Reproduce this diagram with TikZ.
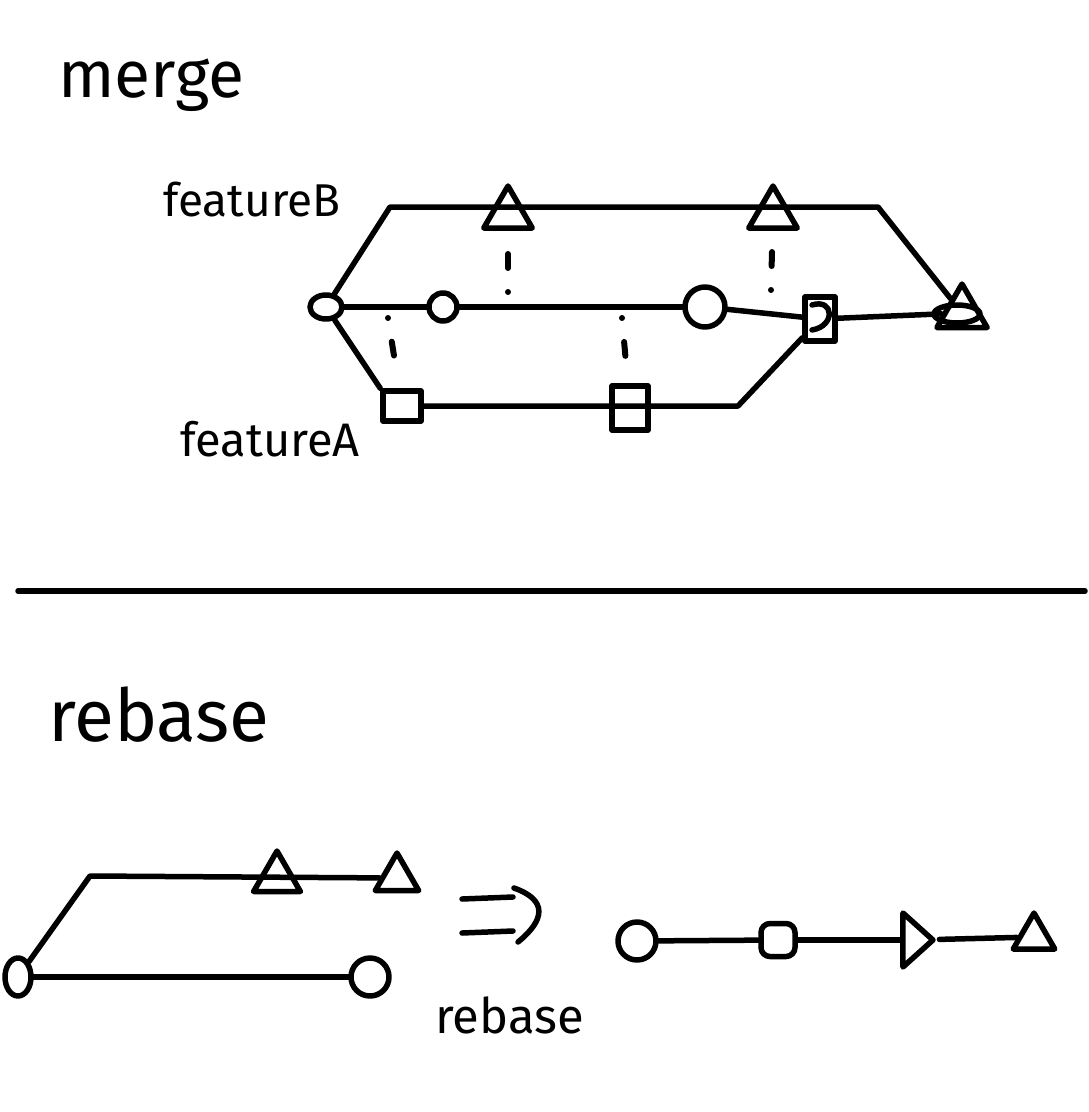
\documentclass[tikz,border=0pt]{standalone}
\usepackage{fontspec}
\setmainfont{Fira Sans}
\usetikzlibrary{shapes.geometric}
\begin{document}
\begin{tikzpicture}[x=1pt,y=-1pt,
  stroke/.style={line width=5.5pt, line cap=round, line join=round},
  commit/.style={draw, stroke, circle, inner sep=0pt, minimum size=#1},
  oval/.style={draw, stroke, ellipse, inner sep=0pt},
  tri/.style={draw, stroke, regular polygon, regular polygon sides=3, inner sep=0pt, minimum size=#1},
  sq/.style={draw, stroke, rectangle, inner sep=0pt},
  dotline/.style={line width=6pt, line cap=round, dash pattern=on 0pt off 24pt on 14pt off 40pt},
  hand/.style={inner sep=0pt, anchor=base west, font=\fontsize{#1}{#1}\selectfont}
]
\useasboundingbox (0,0) rectangle (1088,1112);

% ---------- merge ----------
\node[hand=66] (tmerge) at (58,97) {merge};
\node[hand=46] (tfB) at (163,216) {featureB};
\node[hand=47] (tfA) at (180,456) {featureA};

\node[oval, minimum width=32pt, minimum height=24pt] (o1) at (326,307) {};
\node[commit=28pt] (c1) at (443,307) {};
\node[commit=40pt] (c2) at (705,307) {};
\node[sq, minimum width=30pt, minimum height=44pt] (d) at (820,319) {};
\draw[stroke] (812,305) .. controls (834,298) and (836,326) .. (812,330);
\node[tri=58pt] (m) at (962,313) {};
\draw[stroke] (957,314) ellipse (23 and 9);

\node[tri=56pt] (tB1) at (508,214) {};
\node[tri=56pt] (tB2) at (773,214) {};
\node[sq, minimum width=38pt, minimum height=30pt] (sA1) at (402,406) {};
\node[sq, minimum width=36pt, minimum height=44pt] (sA2) at (630,408) {};

\coordinate (bB1) at (390,207);
\coordinate (bB2) at (878,207);
\coordinate (bA2) at (738,406);

% main line
\draw[stroke] (o1) -- (c1);
\draw[stroke] (c1) -- (c2);
\draw[stroke] (c2) -- (d);
\draw[stroke] (d) -- (m);
% featureB branch
\draw[stroke] (o1) -- (bB1) -- (bB2) -- (m);
% featureA branch
\draw[stroke] (o1) -- (sA1.north west);
\draw[stroke] (sA1.east) -- (bA2) -- (d);

% dotted links
\coordinate (q1) at (508,292);
\coordinate (q2) at (771,290);
\coordinate (q3) at (388,318);
\coordinate (q4) at (622,318);
\draw[dotline] (q1) -- (tB1);
\draw[dotline] (q2) -- (tB2);
\draw[dotline] (q3) -- (sA1);
\draw[dotline] (q4) -- (sA2);

% separator
\coordinate (sepL) at (18,591);
\coordinate (sepR) at (1085,591);
\draw[stroke] (sepL) -- (sepR);

% ---------- rebase ----------
\node[hand=73] (trebase) at (48,741) {rebase};
\node[hand=49] (trebase2) at (435,1033) {rebase};

\node[oval, minimum width=26pt, minimum height=38pt] (r0) at (18,977) {};
\node[commit=38pt] (rC) at (370,977) {};
\node[tri=54pt] (rT1) at (277,878) {};
\node[tri=50pt] (rT2) at (397,878) {};
\coordinate (rB1) at (90,876);
\draw[stroke] (r0) -- (rB1) -- (rT2);
\draw[stroke] (r0) -- (rC);

% hand-drawn double arrow
\draw[stroke] (462,899) -- (513,897);
\draw[stroke] (462,933) -- (513,931);
\draw[stroke] (514,888) .. controls (548,900) and (545,920) .. (518,942);

\node[commit=38pt] (n1) at (637,941) {};
\node[draw, stroke, rounded corners=9pt, minimum width=34pt, minimum height=33pt, inner sep=0pt] (n2) at (778,940) {};
\node[draw, stroke, isosceles triangle, isosceles triangle stretches, minimum width=54pt, minimum height=30pt, inner sep=0pt] (n3) at (915,940) {};
\node[tri=48pt] (n4) at (1034,937) {};
\draw[stroke] (n1) -- (n2);
\draw[stroke] (n2) -- (n3);
\draw[stroke] (n3) -- (n4);
\end{tikzpicture}
\end{document}
